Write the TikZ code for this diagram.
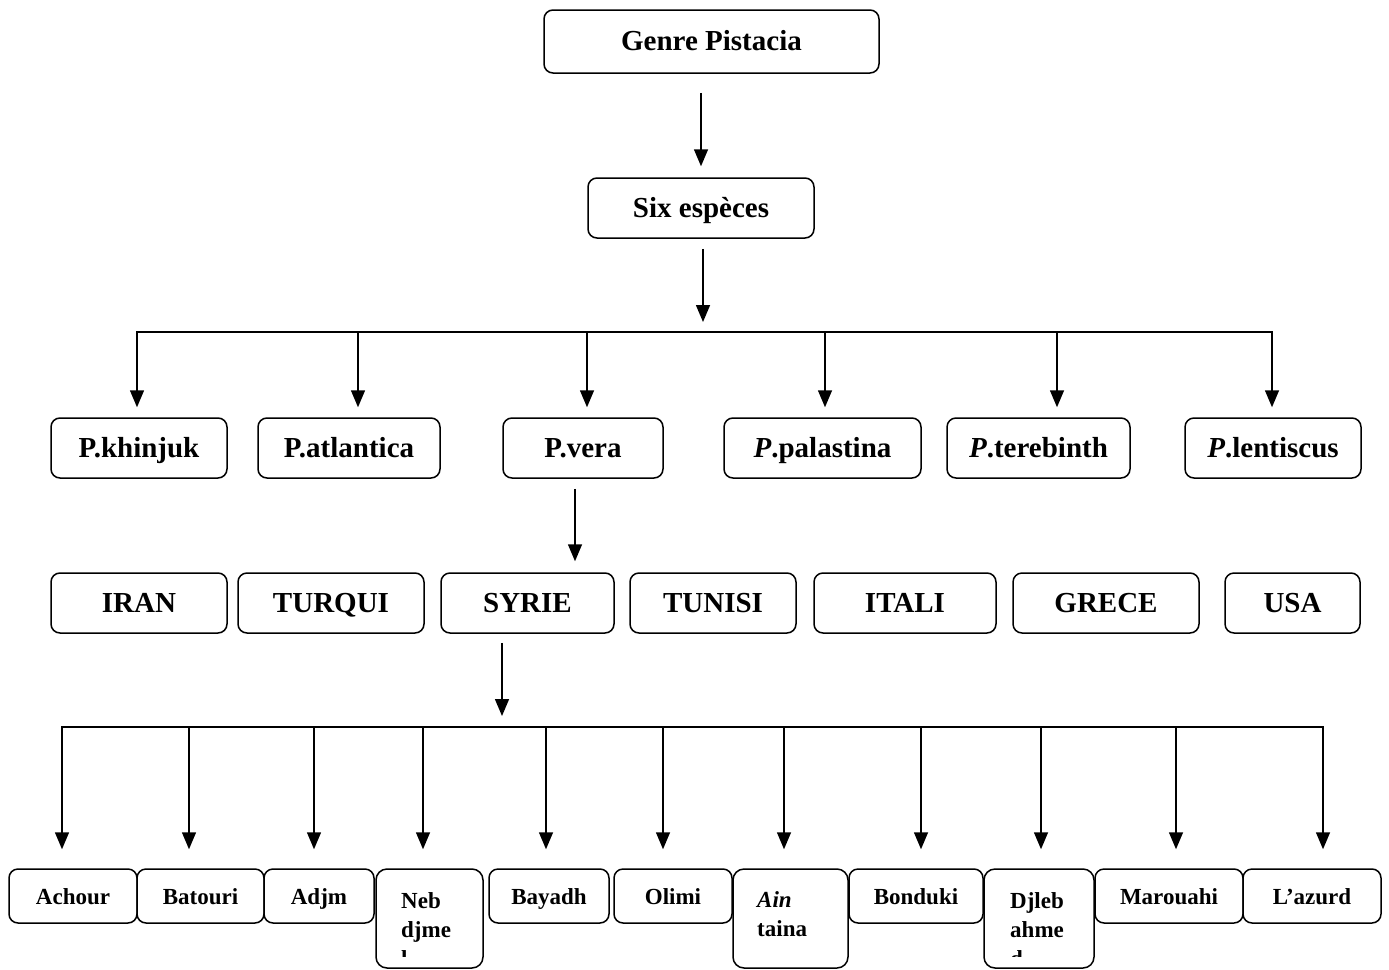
\documentclass[tikz,border=0pt]{standalone}
\usepackage{fontspec}
\setmainfont{Liberation Serif}
\usetikzlibrary{arrows.meta}
\begin{document}
\begin{tikzpicture}[x=1pt,y=-1pt,
  box/.style={draw, rounded corners=9pt, line width=1.5pt, inner sep=0pt, align=center},
  big/.style={box, font=\fontsize{29}{33}\selectfont\bfseries, text height=18pt, text depth=0pt, minimum height=60pt},
  small/.style={box, font=\fontsize{23}{28}\selectfont\bfseries, text height=16pt, text depth=0pt, minimum height=54pt},
  tallbox/.style={draw, rounded corners=11pt, line width=1.5pt, inner sep=0pt, minimum height=99pt},
  tall/.style={font=\fontsize{23}{29}\selectfont\bfseries, align=left, anchor=base west, inner sep=0pt},
  arr/.style={-{Triangle[width=14pt,length=17pt]}, line width=1.5pt},
  ln/.style={line width=1.5pt, line cap=rect}]
\useasboundingbox (0,0) rectangle (1389,969);

% top
\node[big, minimum width=335pt, minimum height=63pt] (g) at (711.5,41.5) {Genre Pistacia};
\node[big, minimum width=226pt] (s) at (701,208) {Six espèces};
\draw[arr, shorten <=19pt, shorten >=11pt] (s.north |- g.south) -- (s.north);

% species
\node[big, minimum width=176pt] (sp1) at (139,448) {P.khinjuk};
\node[big, minimum width=182pt] (sp2) at (349,448) {P.atlantica};
\node[big, minimum width=160pt] (sp3) at (583,448) {P.vera};
\node[big, minimum width=197pt] (sp4) at (822.5,448) {\textit{P}.palastina};
\node[big, minimum width=183pt] (sp5) at (1038.5,448) {\textit{P}.terebinth};
\node[big, minimum width=176pt] (sp6) at (1273,448) {\textit{P}.lentiscus};

\coordinate (b1) at (703,332);
\draw[arr, shorten <=10pt, shorten >=10pt] (b1 |- s.south) -- (b1);
\coordinate (d1) at (137,332);
\coordinate (d2) at (358,332);
\coordinate (d3) at (587,332);
\coordinate (d4) at (825,332);
\coordinate (d5) at (1057,332);
\coordinate (d6) at (1272,332);
\draw[ln] (d1) -- (d6);
\foreach \i in {1,...,6}{
  \draw[arr, shorten >=10pt] (d\i) -- (d\i |- sp\i.north);
}

% countries
\node[big, minimum width=176pt] (c1) at (139,603) {IRAN};
\node[big, minimum width=186pt] (c2) at (331,603) {TURQUI};
\node[big, minimum width=173pt] (c3) at (527.5,603) {SYRIE};
\node[big, minimum width=166pt] (c4) at (713,603) {TUNISI};
\node[big, minimum width=182pt] (c5) at (905,603) {ITALI};
\node[big, minimum width=186pt] (c6) at (1106,603) {GRECE};
\node[big, minimum width=135pt] (c7) at (1292.5,603) {USA};

\draw[arr, shorten <=10pt, shorten >=11pt] ([xshift=-8pt]sp3.south) -- ([xshift=-8pt]sp3.south |- c3.north);

% varieties
\coordinate (b2) at (502,727);
\draw[arr, shorten <=9pt, shorten >=11pt] (b2 |- c3.south) -- (b2);

\node[small, minimum width=128pt] (v1) at (73,896) {Achour};
\node[small, minimum width=127pt] (v2) at (200.5,896) {Batouri};
\node[small, minimum width=110pt] (v3) at (319,896) {Adjm};
\node[tallbox, minimum width=107pt] (v4) at (429.5,918.5) {};
\node[small, minimum width=120pt] (v5) at (549,896) {Bayadh};
\node[small, minimum width=118pt] (v6) at (673,896) {Olimi};
\node[tallbox, minimum width=115pt] (v7) at (790.5,918.5) {};
\node[small, minimum width=134pt] (v8) at (916,896) {Bonduki};
\node[tallbox, minimum width=110pt] (v9) at (1039,918.5) {};
\node[small, minimum width=148pt] (v10) at (1169,896) {Marouahi};
\node[small, minimum width=138pt] (v11) at (1312,896) {L’azurd};

\begin{scope}
  \clip (376,869) rectangle (483,956);
  \node[tall] (t4) at (401,966) {Neb\\djme\\l};
\end{scope}
\node[tall] (t7) at (757,936) {\textit{Ain}\\taina};
\begin{scope}
  \clip (984,869) rectangle (1094,956);
  \node[tall] (t9) at (1010,966) {Djleb\\ahme\\d};
\end{scope}

\coordinate (e1) at (62,727);
\coordinate (e2) at (189,727);
\coordinate (e3) at (314,727);
\coordinate (e4) at (423,727);
\coordinate (e5) at (546,727);
\coordinate (e6) at (663,727);
\coordinate (e7) at (784,727);
\coordinate (e8) at (921,727);
\coordinate (e9) at (1041,727);
\coordinate (e10) at (1176,727);
\coordinate (e11) at (1323,727);
\draw[ln] (e1) -- (e11);
\foreach \i in {1,...,11}{
  \draw[arr, shorten >=19pt] (e\i) -- (e\i |- v\i.north);
}
\end{tikzpicture}
\end{document}
